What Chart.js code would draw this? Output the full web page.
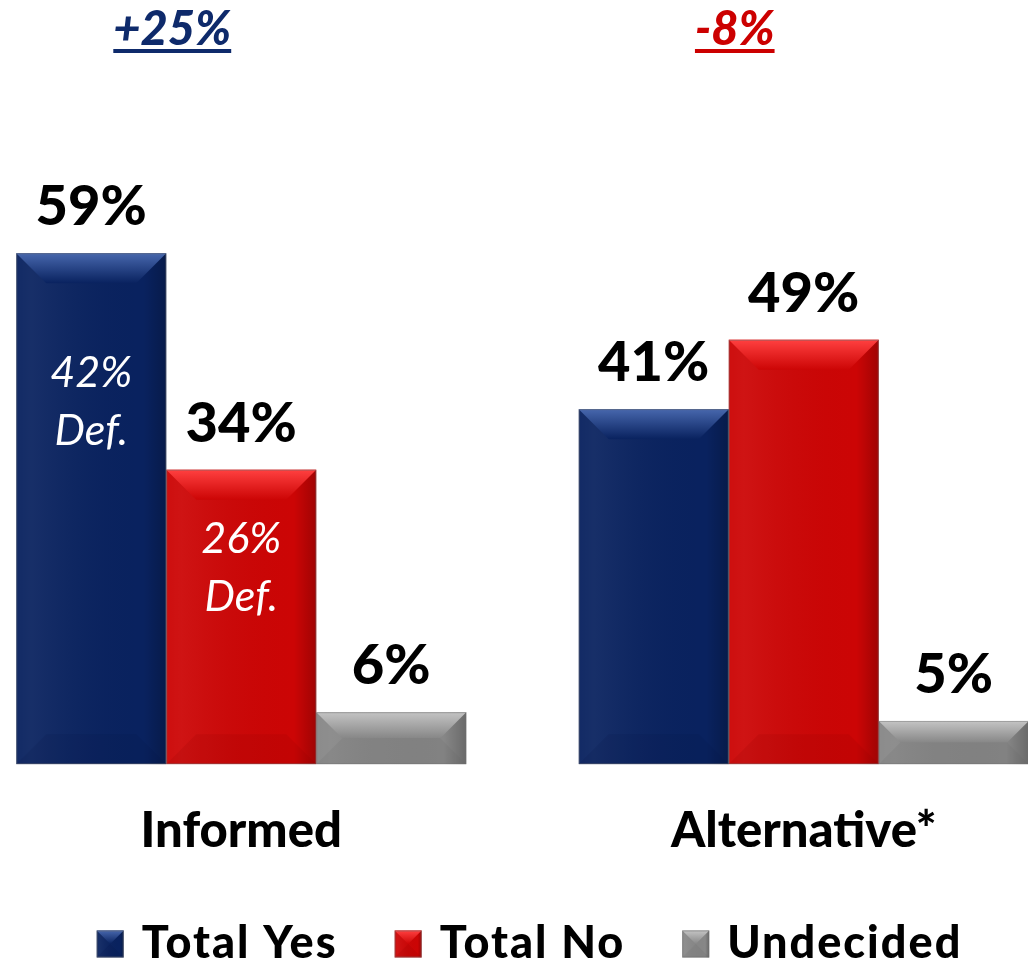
<!DOCTYPE html>
<html>
<head>
<meta charset="utf-8">
<script src="https://cdn.jsdelivr.net/npm/chart.js@4.4.1/dist/chart.umd.min.js"></script>
<style>
  html, body { margin: 0; padding: 0; background: #fff; overflow: hidden; }
  #wrap { position: absolute; left: -40px; top: 0; width: 1125px; height: 964px; }
</style>
</head>
<body>
<div id="wrap"><canvas id="poll"></canvas></div>
<script>
// data
const categories = ['Informed', 'Alternative*'];
const seriesNames = ['Total Yes', 'Total No', 'Undecided'];
const totalYes = [59, 41];
const totalNo = [34, 49];
const undecided = [6, 5];
const definiteYes = [42, null];   // "Def." figures shown inside the bars
const definiteNo = [26, null];

const FONT = 'Lato, "Open Sans", sans-serif';

const colors = {
  yes: { base: '#09225f', light: '#4767ad', dark: '#051645' },
  no: { base: '#cc0505', light: '#ff4040', dark: '#8e0000' },
  und: { base: '#878787', light: '#c4c4c4', dark: '#666666' }
};

// draws the bevelled look over a rectangle
function drawBevel(ctx, x0, y0, x1, y1, c, depth) {
  const h = y1 - y0, w = x1 - x0;
  const d = Math.min(depth, h / 2, w / 2);
  ctx.save();
  // soft horizontal shading across the face
  let hg = ctx.createLinearGradient(x0, 0, x1, 0);
  hg.addColorStop(0, 'rgba(255,255,255,0.04)');
  hg.addColorStop(0.1, 'rgba(255,255,255,0.06)');
  hg.addColorStop(0.85, 'rgba(0,0,0,0)');
  hg.addColorStop(1, 'rgba(0,0,0,0.22)');
  ctx.fillStyle = hg;
  ctx.fillRect(x0, y0, w, h);
  // top
  let g = ctx.createLinearGradient(0, y0, 0, y0 + d);
  g.addColorStop(0, c.light);
  g.addColorStop(1, c.base);
  ctx.fillStyle = g;
  ctx.beginPath();
  ctx.moveTo(x0, y0); ctx.lineTo(x1, y0); ctx.lineTo(x1 - d, y0 + d); ctx.lineTo(x0 + d, y0 + d);
  ctx.closePath(); ctx.fill();
  // bottom, a bit darker
  ctx.globalAlpha = 0.14;
  ctx.fillStyle = c.dark;
  ctx.beginPath();
  ctx.moveTo(x0, y1); ctx.lineTo(x0 + d, y1 - d); ctx.lineTo(x1 - d, y1 - d); ctx.lineTo(x1, y1);
  ctx.closePath(); ctx.fill();
  ctx.restore();
}

const bevelPlugin = {
  id: 'bevel',
  afterDatasetsDraw(chart) {
    const ctx = chart.ctx;
    chart.data.datasets.forEach((ds, i) => {
      chart.getDatasetMeta(i).data.forEach(bar => {
        const x0 = bar.x - bar.width / 2, x1 = bar.x + bar.width / 2;
        drawBevel(ctx, x0, bar.y, x1, bar.base, ds.bevelColors, 30);
        ctx.save();
        ctx.strokeStyle = 'rgba(110,110,110,0.45)';
        ctx.lineWidth = 1;
        ctx.strokeRect(x0 + 0.5, bar.y + 0.5, bar.width - 1, bar.base - bar.y - 1);
        ctx.restore();
      });
    });
  }
};

const labelPlugin = {
  id: 'labels',
  afterDraw(chart) {
    const ctx = chart.ctx;
    ctx.save();
    // value labels above the bars
    ctx.textAlign = 'center';
    ctx.textBaseline = 'alphabetic';
    ctx.fillStyle = '#000';
    ctx.font = '900 56px ' + FONT;
    chart.data.datasets.forEach((ds, i) => {
      chart.getDatasetMeta(i).data.forEach((bar, j) => {
        ctx.fillText(ds.data[j] + '%', bar.x, bar.y - 28);
      });
    });
    // "Def." labels inside bars
    ctx.fillStyle = '#fff';
    ctx.font = 'italic 43px ' + FONT;
    ctx.textBaseline = 'middle';
    [[0, definiteYes], [1, definiteNo]].forEach(([i, defs]) => {
      chart.getDatasetMeta(i).data.forEach((bar, j) => {
        if (defs[j] == null) return;
        const y = bar.y + (bar.base - bar.y) * 0.235;
        ctx.fillText(defs[j] + '%', bar.x, y);
        ctx.fillText('Def.', bar.x, y + 58);
      });
    });
    // net difference above yes/no pair
    ctx.font = 'italic 900 47px ' + FONT;
    ctx.textBaseline = 'alphabetic';
    const yesMeta = chart.getDatasetMeta(0).data;
    const noMeta = chart.getDatasetMeta(1).data;
    categories.forEach((c, j) => {
      const diff = totalYes[j] - totalNo[j];
      const txt = (diff > 0 ? '+' : '') + diff + '%';
      const cx = (yesMeta[j].x + noMeta[j].x) / 2 + 6;
      ctx.fillStyle = diff > 0 ? '#0e2a6b' : '#cc0000';
      ctx.fillText(txt, cx, 45);
      const w = ctx.measureText(txt).width;
      ctx.fillRect(cx - w / 2, 49, w, 4);
    });
    // legend
    ctx.font = '900 45px ' + FONT;
    ctx.letterSpacing = '2px';
    ctx.textBaseline = 'alphabetic';
    ctx.textAlign = 'left';
    const box = 27, gapText = 18, gapItem = 57;
    const widths = seriesNames.map(n => ctx.measureText(n).width);
    const total = widths.reduce((a, b) => a + b, 0) + seriesNames.length * (box + gapText) + gapItem * (seriesNames.length - 1);
    let x = 569.5 - total / 2;
    const ly = 944;
    chart.data.datasets.forEach((ds, i) => {
      ctx.fillStyle = ds.bevelColors.base;
      ctx.fillRect(x, ly - box / 2, box, box);
      drawBevel(ctx, x, ly - box / 2, x + box, ly + box / 2, ds.bevelColors, box / 2);
      ctx.strokeStyle = 'rgba(110,110,110,0.5)';
      ctx.lineWidth = 1;
      ctx.strokeRect(x + 0.5, ly - box / 2 + 0.5, box - 1, box - 1);
      ctx.fillStyle = '#000';
      ctx.fillText(seriesNames[i], x + box + gapText, 958);
      x += box + gapText + widths[i] + gapItem;
    });
    ctx.restore();
  }
};

new Chart(document.getElementById('poll'), {
  type: 'bar',
  data: {
    labels: categories,
    datasets: [
      { label: seriesNames[0], data: totalYes, backgroundColor: colors.yes.base, bevelColors: colors.yes },
      { label: seriesNames[1], data: totalNo, backgroundColor: colors.no.base, bevelColors: colors.no },
      { label: seriesNames[2], data: undecided, backgroundColor: colors.und.base, bevelColors: colors.und }
    ]
  },
  options: {
    responsive: true,
    maintainAspectRatio: false,
    animation: false,
    categoryPercentage: 0.8,
    barPercentage: 1.0,
    layout: { padding: { top: 158, bottom: 65, left: 0, right: 0 } },
    plugins: {
      legend: { display: false },
      tooltip: { enabled: false }
    },
    scales: {
      y: { display: false, min: 0, max: 70 },
      x: {
        grid: { display: false, drawTicks: false },
        border: { display: false },
        ticks: {
          color: '#000',
          padding: 38,
          font: { family: FONT, size: 49, weight: '900' }
        }
      }
    }
  },
  plugins: [bevelPlugin, labelPlugin]
});
</script>
</body>
</html>
